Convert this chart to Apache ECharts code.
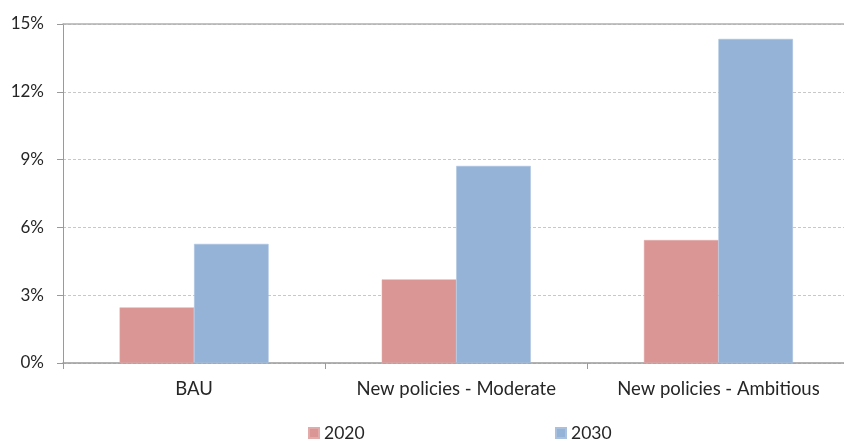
<!DOCTYPE html>
<html>
<head>
<meta charset="utf-8">
<style>
  html, body { margin: 0; padding: 0; background: #ffffff; }
  #chart { width: 844px; height: 441px; }
</style>
<script src="https://cdn.jsdelivr.net/npm/echarts@6/dist/echarts.min.js"></script>
</head>
<body>
<div id="chart"></div>
<script>
// Scenario categories along the x axis
const categories = ['BAU', 'New policies - Moderate', 'New policies - Ambitious'];
// Share values (in %) per scenario
const values2020 = [2.46, 3.70, 5.44];
const values2030 = [5.27, 8.72, 14.34];
// Y axis ticks (in %)
const yTicks = [0, 3, 6, 9, 12, 15];

const FONT = 'Lato, "DejaVu Sans", sans-serif';
const TEXT = '#262626';

const chart = echarts.init(document.getElementById('chart'), null, { renderer: 'canvas' });

chart.setOption({
  animation: false,
  backgroundColor: '#ffffff',
  textStyle: { fontFamily: FONT },
  grid: {
    left: 63, top: 24, right: -5.5, bottom: 78,
    outerBoundsMode: 'none'
  },
  legend: [
    {
      data: ['2020'],
      left: 308, top: 424, padding: 0,
      icon: 'rect', itemWidth: 10, itemHeight: 10, itemGap: 6,
      textStyle: { fontFamily: FONT, fontSize: 17.5, color: TEXT }
    },
    {
      data: ['2030'],
      left: 555, top: 424, padding: 0,
      icon: 'rect', itemWidth: 10, itemHeight: 10, itemGap: 6,
      textStyle: { fontFamily: FONT, fontSize: 17.5, color: TEXT }
    }
  ],
  xAxis: [
    {
      type: 'category',
      data: categories,
      axisLine: { show: true, lineStyle: { color: '#9a9a9a', width: 1.5 } },
      axisTick: { show: true, length: 6, lineStyle: { color: '#9a9a9a' } },
      axisLabel: {
        interval: 0, hideOverlap: false,
        margin: 17, fontSize: 18.5, color: TEXT, fontFamily: FONT
      }
    },
    {
      // top border of the plot area
      type: 'category',
      position: 'top',
      data: categories,
      axisLine: { show: true, lineStyle: { color: '#b0b0b0', width: 1.5 } },
      axisTick: { show: false },
      axisLabel: { show: false }
    }
  ],
  yAxis: {
    type: 'value',
    min: yTicks[0],
    max: yTicks[yTicks.length - 1],
    interval: yTicks[1] - yTicks[0],
    axisLine: { show: true, lineStyle: { color: '#9a9a9a', width: 1 } },
    axisTick: { show: true, length: 6, lineStyle: { color: '#9a9a9a' } },
    axisLabel: {
      margin: 19, fontSize: 17, color: TEXT, fontFamily: FONT,
      formatter: '{value}%'
    },
    splitLine: { show: true, lineStyle: { color: '#c8c8c8', type: [3, 2], width: 1 } }
  },
  series: [
    {
      name: '2020',
      type: 'bar',
      data: values2020,
      barWidth: 74.5,
      barGap: '0%',
      itemStyle: { color: '#D99694', borderColor: '#E2AAA8', borderWidth: 0.5 }
    },
    {
      name: '2030',
      type: 'bar',
      data: values2030,
      barWidth: 74.5,
      barGap: '0%',
      itemStyle: { color: '#95B3D7', borderColor: '#A9C1DE', borderWidth: 0.5 }
    }
  ]
});
</script>
</body>
</html>
